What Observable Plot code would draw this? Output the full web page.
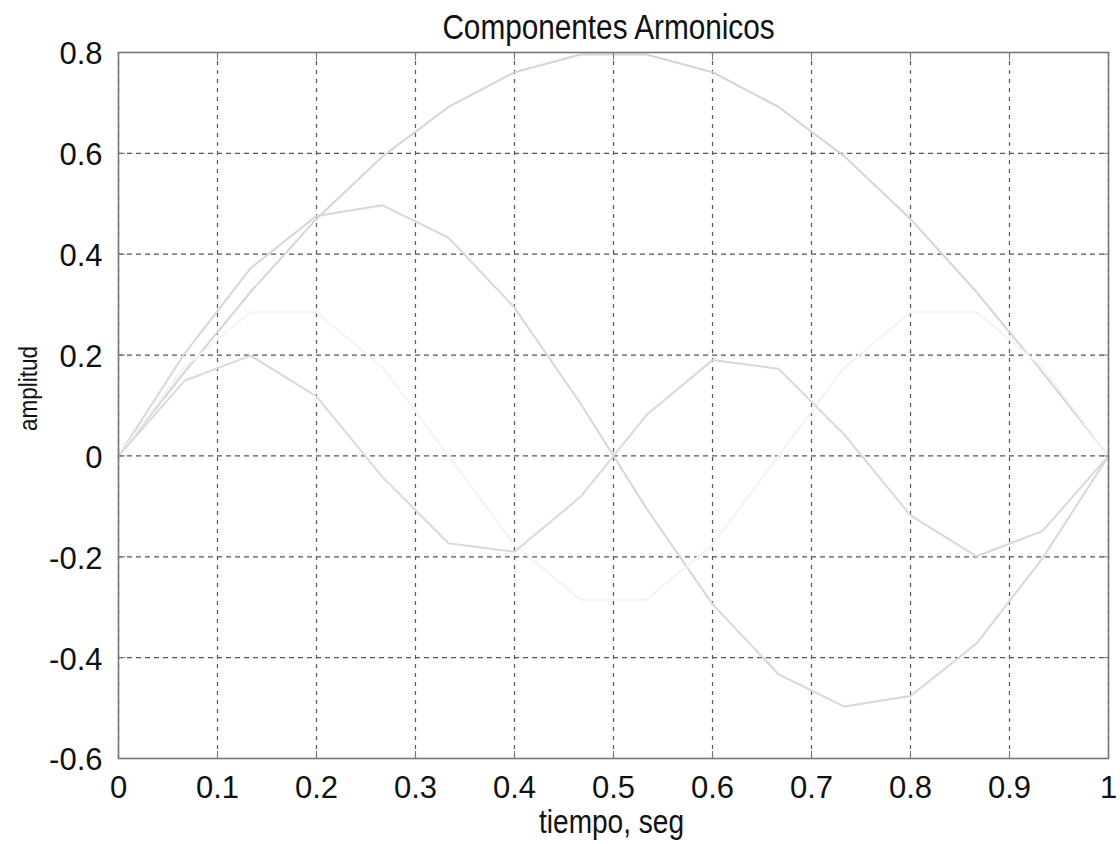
<!DOCTYPE html>
<html>
<head>
<meta charset="utf-8">
<script src="https://cdn.jsdelivr.net/npm/d3@7"></script>
<script src="https://cdn.jsdelivr.net/npm/@observablehq/plot@0.6"></script>
<style>
  html, body { margin: 0; padding: 0; background: #fff; }
  #chart { width: 1120px; height: 844px; }
</style>
</head>
<body>
<div id="chart"></div>
<script>
// Sample times (s)
const tiempo = [0, 0.0667, 0.1333, 0.2, 0.2667, 0.3333, 0.4, 0.4667, 0.5333, 0.6, 0.6667, 0.7333, 0.8, 0.8667, 0.9333, 1];
// Harmonic components
const armonico1 = [0, 0.166, 0.325, 0.470, 0.594, 0.692, 0.761, 0.796, 0.796, 0.761, 0.692, 0.594, 0.470, 0.325, 0.166, 0];
const armonico2 = [0, 0.203, 0.372, 0.476, 0.497, 0.433, 0.294, 0.104, -0.104, -0.294, -0.433, -0.497, -0.476, -0.372, -0.203, 0];
const armonico3 = [0, 0.176, 0.285, 0.285, 0.176, 0, -0.176, -0.285, -0.285, -0.176, 0, 0.176, 0.285, 0.285, 0.176, 0];
const armonico4 = [0, 0.149, 0.199, 0.118, -0.042, -0.173, -0.190, -0.081, 0.081, 0.190, 0.173, 0.042, -0.118, -0.199, -0.149, 0];

const xTicks = [0, 0.1, 0.2, 0.3, 0.4, 0.5, 0.6, 0.7, 0.8, 0.9, 1];
const yTicks = [-0.6, -0.4, -0.2, 0, 0.2, 0.4, 0.6, 0.8];

const titulo = "Componentes Armonicos";
const xLabel = "tiempo, seg";
const yLabel = "amplitud";

const series = [
  {name: "1", values: armonico1, color: "#d8d2d6"},
  {name: "2", values: armonico2, color: "#d6d6dc"},
  {name: "3", values: armonico3, color: "#f4f2f4"},
  {name: "4", values: armonico4, color: "#d9d9d9"}
];

const tableFor = s => tiempo.map((t, i) => ({t, v: s.values[i]}));

const font = "'Liberation Sans', Arial, Helvetica, sans-serif";
const noText = () => "";

const chart = Plot.plot({
  width: 1120,
  height: 844,
  marginTop: 52,
  marginBottom: 86,
  marginLeft: 118,
  marginRight: 12,
  style: {fontFamily: font, fontSize: "31px", background: "#fff", color: "#111"},
  x: {domain: [0, 1]},
  y: {domain: [-0.6, 0.8]},
  marks: [
    Plot.gridX(xTicks, {stroke: "#555", strokeOpacity: 1, strokeDasharray: "4,5", strokeWidth: 1.2}),
    Plot.gridY(yTicks, {stroke: "#555", strokeOpacity: 1, strokeDasharray: "5,4", strokeWidth: 1.2}),
    ...series.map(s => Plot.line(tableFor(s), {x: "t", y: "v", stroke: s.color, strokeWidth: 2})),
    Plot.frame({stroke: "#777", strokeWidth: 1.6}),
    // inward tick marks on all four sides
    Plot.axisX(xTicks, {anchor: "bottom", tickSize: -7, tickFormat: noText, label: null, stroke: "#777"}),
    Plot.axisX(xTicks, {anchor: "top", tickSize: -7, tickFormat: noText, label: null, stroke: "#777"}),
    Plot.axisY(yTicks, {anchor: "left", tickSize: -7, tickFormat: noText, label: null, stroke: "#777"}),
    Plot.axisY(yTicks, {anchor: "right", tickSize: -7, tickFormat: noText, label: null, stroke: "#777"}),
    // tick labels
    Plot.axisX(xTicks, {anchor: "bottom", tickSize: 0, tickPadding: 17, tickFormat: d => String(d), label: null}),
    Plot.axisY(yTicks, {anchor: "left", tickSize: 0, tickPadding: 16, dy: 2, tickFormat: d => String(d), label: null}),
    Plot.text([titulo], {text: d => d, frameAnchor: "top", textAnchor: "middle", lineAnchor: "middle", dy: -25, dx: -5, fontSize: 35, fill: "#111", className: "narrow"}),
    Plot.text([xLabel], {text: d => d, frameAnchor: "bottom", textAnchor: "middle", lineAnchor: "middle", dy: 64, dx: -2, fontSize: 33, fill: "#111", className: "narrow"}),
    Plot.text([yLabel], {text: d => d, frameAnchor: "left", textAnchor: "middle", lineAnchor: "middle", dx: -90, dy: -17, rotate: -90, fontSize: 25, fill: "#111", className: "narrowy"})
  ]
});
document.getElementById("chart").appendChild(chart);

// Condense the title and axis labels horizontally, like the reference's narrow face
function condense(sel, k) {
  chart.querySelectorAll(sel + " text").forEach(t => {
    const tr = t.getAttribute("transform") || "";
    t.setAttribute("transform", (tr + ` scale(${k},1)`).trim());
  });
}
condense(".narrow", 0.85);
condense(".narrowy", 0.9);
</script>
</body>
</html>
